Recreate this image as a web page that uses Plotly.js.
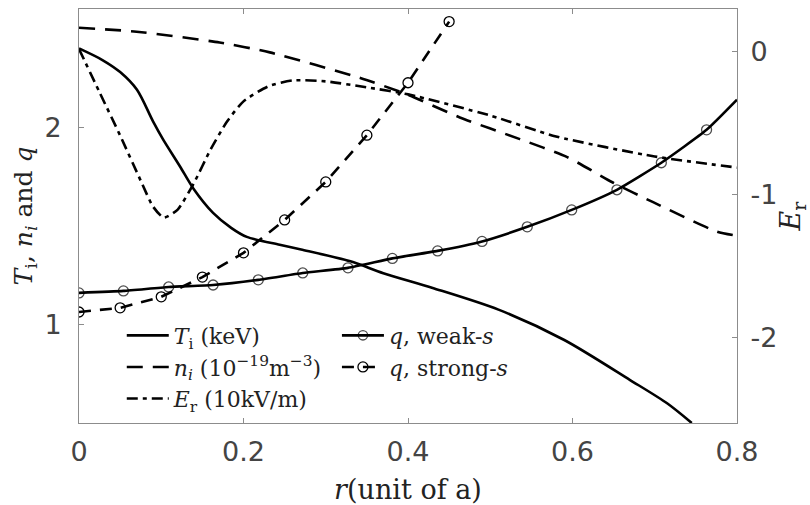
<!DOCTYPE html>
<html>
<head>
<meta charset="utf-8">
<script src="https://cdn.plot.ly/plotly-3.0.1.min.js"></script>
<style>html,body{margin:0;padding:0;background:#fff;}#chart{width:810px;height:505px;}</style>
</head>
<body>
<div id="chart"></div>
<script>
// ---- data ----
const tiR   = [0, 0.029, 0.05, 0.0705, 0.09, 0.102, 0.123, 0.139, 0.163, 0.185, 0.204, 0.244, 0.27, 0.33, 0.37, 0.43, 0.51, 0.59, 0.67, 0.715, 0.745];
const tiV   = [2.40, 2.34, 2.28, 2.19, 2.03, 1.94, 1.80, 1.69, 1.566, 1.49, 1.444, 1.404, 1.38, 1.32, 1.26, 1.185, 1.075, 0.921, 0.718, 0.60, 0.50];

const niR   = [0, 0.07, 0.171, 0.232, 0.342, 0.4, 0.463, 0.536, 0.593, 0.649, 0.698, 0.776, 0.8];
const niV   = [2.505, 2.485, 2.43, 2.38, 2.25, 2.165, 2.05, 1.94, 1.85, 1.72, 1.62, 1.47, 1.45];

const erR   = [0, 0.0255, 0.05, 0.075, 0.09, 0.103, 0.12, 0.14, 0.16, 0.18, 0.2, 0.23, 0.26, 0.3, 0.35, 0.4, 0.5, 0.58, 0.7, 0.8];
const erV   = [0.02, -0.29, -0.586, -0.902, -1.084, -1.161, -1.105, -0.916, -0.684, -0.488, -0.347, -0.242, -0.20, -0.207, -0.249, -0.298, -0.446, -0.593, -0.733, -0.811];

const qWeakR = [0, 0.054, 0.109, 0.163, 0.218, 0.272, 0.327, 0.381, 0.436, 0.49, 0.545, 0.599, 0.654, 0.708, 0.763, 0.8];
const qWeakV = [1.160, 1.170, 1.190, 1.200, 1.226, 1.261, 1.287, 1.335, 1.373, 1.421, 1.495, 1.581, 1.683, 1.820, 1.987, 2.14];
const qWeakMarked = [1,1,1,1,1,1,1,1,1,1,1,1,1,1,1,0];

const qStrongR = [0, 0.05, 0.1, 0.15, 0.2, 0.25, 0.3, 0.35, 0.4, 0.45];
const qStrongV = [1.063, 1.084, 1.14, 1.24, 1.363, 1.53, 1.723, 1.96, 2.226, 2.536];

const xTicks  = [0, 0.2, 0.4, 0.6, 0.8];
const yTicks  = [1, 2];
const y2Ticks = [-2, -1, 0];
const y2Labels = ['-2', '-1', '0'];

// ---- styles ----
const serif = 'DejaVu Serif, Liberation Serif, serif';
const sans = 'DejaVu Sans, Liberation Sans, sans-serif';
const black = '#000';
const frame = '#8c8c8c';
const tickColor = '#444';

const traces = [
  {x: tiR, y: tiV, mode: 'lines', name: '<i>T</i><sub>i</sub> (keV)', line: {color: black, width: 2.6, shape: 'spline', smoothing: 0.8}, legend: 'legend'},
  {x: niR, y: niV, mode: 'lines', name: '<i>n</i><sub><i>i</i></sub> (10<sup>−19</sup>m<sup>−3</sup>)', line: {color: black, width: 2.6, dash: '16px,10px', shape: 'spline', smoothing: 0.6}, legend: 'legend'},
  {x: erR, y: erV, yaxis: 'y2', mode: 'lines', name: '<i>E</i><sub>r</sub> (10kV/m)', line: {color: black, width: 2.6, dash: '11px,5px,4px,5px', shape: 'spline', smoothing: 0.6}, legend: 'legend'},
  {x: qWeakR, y: qWeakV, mode: 'lines+markers', name: '<i>q</i>, weak-<i>s</i>', line: {color: black, width: 2.6, shape: 'spline', smoothing: 0.5},
   marker: {symbol: 'circle-open', size: qWeakMarked.map(m => m ? 10 : 0), color: black, line: {width: 1.3, color: black}}, legend: 'legend2'},
  {x: qStrongR, y: qStrongV, mode: 'lines+markers', name: '<i>q</i>, strong-<i>s</i>', line: {color: black, width: 2.6, dash: '12px,9px'},
   marker: {symbol: 'circle-open', size: 10, color: black, line: {width: 1.3, color: black}}, legend: 'legend2'}
];

const layout = {
  width: 810, height: 505,
  margin: {l: 79, r: 73, t: 9, b: 82},
  paper_bgcolor: '#fff', plot_bgcolor: '#fff',
  showlegend: true,
  xaxis: {
    range: [0, 0.8], tickvals: xTicks, ticktext: xTicks.map(v => String(v)),
    ticks: 'inside', ticklen: 5, tickcolor: frame, showline: true, linecolor: frame, linewidth: 1, mirror: 'ticks',
    showgrid: false, zeroline: false, ticklabelstandoff: 5,
    tickfont: {family: sans, size: 27, color: tickColor},
    title: {text: '<i>r</i>(unit of a)', font: {family: serif, size: 27, color: '#222'}, standoff: 14}
  },
  yaxis: {
    range: [0.5, 2.6], tickvals: yTicks, ticktext: ['1', '2'],
    ticks: 'inside', ticklen: 5, tickcolor: frame, showline: true, linecolor: frame, linewidth: 1,
    showgrid: false, zeroline: false, ticklabelstandoff: 11,
    tickfont: {family: sans, size: 27, color: tickColor},
    title: {text: '<i>T</i><sub>i</sub>, <i>n</i><sub><i>i</i></sub> and <i>q</i>', font: {family: serif, size: 25, color: '#222'}, standoff: 4}
  },
  yaxis2: {
    range: [-2.6, 0.3], tickvals: y2Ticks, ticktext: y2Labels, overlaying: 'y', side: 'right',
    ticks: 'inside', ticklen: 5, tickcolor: frame, showline: true, linecolor: frame, linewidth: 1,
    showgrid: false, zeroline: false, ticklabelstandoff: 7,
    tickfont: {family: sans, size: 27, color: tickColor},
    title: {text: '<i>E</i><sub>r</sub>', font: {family: serif, size: 27, color: '#222'}, standoff: 6}
  },
  legend: {
    x: 0.065, y: 0.262, xanchor: 'left', yanchor: 'top',
    bgcolor: 'rgba(0,0,0,0)', borderwidth: 0, itemwidth: 42, tracegroupgap: 0,
    font: {family: serif, size: 22, color: '#222'}
  },
  legend2: {
    x: 0.392, y: 0.262, xanchor: 'left', yanchor: 'top',
    bgcolor: 'rgba(0,0,0,0)', borderwidth: 0, itemwidth: 42, tracegroupgap: 0,
    font: {family: serif, size: 22, color: '#222'}
  }
};

Plotly.newPlot('chart', traces, layout, {staticPlot: true, displayModeBar: false});
</script>
</body>
</html>
